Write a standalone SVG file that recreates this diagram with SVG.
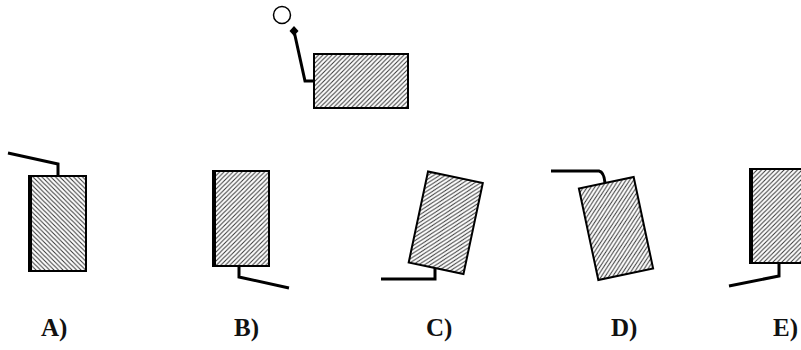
<svg xmlns="http://www.w3.org/2000/svg" width="801" height="350" viewBox="0 0 801 350">
<defs>
<pattern id="hatchR" patternUnits="userSpaceOnUse" width="4.5" height="4.5">
<rect width="4.5" height="4.5" fill="#fff"/>
<path d="M0,4.5 L4.5,0 M-1,1 L1,-1 M3.5,5.5 L5.5,3.5" stroke="#333" stroke-width="1"/>
</pattern>
<pattern id="hatchL" patternUnits="userSpaceOnUse" width="4.5" height="4.5">
<rect width="4.5" height="4.5" fill="#fff"/>
<path d="M0,0 L4.5,4.5 M-1,3.5 L1,5.5 M3.5,-1 L5.5,1" stroke="#333" stroke-width="1"/>
</pattern>
</defs>
<style>
.box{stroke:#000;stroke-width:2}
.thick{stroke:#000;stroke-width:4;fill:none}
.wire{fill:none;stroke:#000;stroke-width:3;stroke-linejoin:miter}
.lbl{font-family:"Liberation Serif","Times New Roman",serif;font-weight:bold;font-size:25px;fill:#111}
</style>
<rect width="801" height="350" fill="#fff"/>

<g id="connectors">
<path class="wire" d="M294,31 L305,81 L314,81"/>
<path class="wire" d="M8,153 L58,164 L58,176"/>
<path class="wire" d="M239,266 L239,277 L289,288"/>
<path class="wire" stroke-width="2.5" d="M435,268 L435,279 L381,279"/>
<path class="wire" stroke-width="1.6" d="M551,171 L599,171 Q604,172 605,183"/>
<path class="wire" d="M779,263 L779,276 L729,286"/>
</g>

<g id="top">
<circle cx="282" cy="15" r="8.5" fill="#fff" stroke="#000" stroke-width="1.5"/>
<path d="M294,26 L298.5,31 L294,36 L289.5,31 Z" fill="#000"/>
<rect class="box" x="314" y="54" width="94" height="54" fill="url(#hatchR)" stroke-width="3"/>
</g>

<g id="A">
<rect class="box" x="30" y="176" width="56" height="95" fill="url(#hatchL)"/>
<line class="thick" x1="30" y1="175" x2="30" y2="272"/>
<text class="lbl" x="41" y="336">A)</text>
</g>

<g id="B">
<rect class="box" x="214" y="171" width="55" height="95" fill="url(#hatchR)"/>
<line class="thick" x1="214" y1="170" x2="214" y2="267"/>
<text class="lbl" x="234" y="336">B)</text>
</g>

<g id="C">
<g transform="rotate(12 445.75 222.75)">
<rect class="box" x="417.75" y="176.25" width="56" height="93" fill="url(#hatchR)" stroke-width="2.5"/>
</g>
<text class="lbl" x="426" y="336">C)</text>
</g>

<g id="D">
<g transform="rotate(-12 616 228.5)">
<rect class="box" x="588" y="181.75" width="56" height="93.5" fill="url(#hatchR)" stroke-width="2.5"/>
</g>
<text class="lbl" x="611" y="336">D)</text>
</g>

<g id="E">
<rect class="box" x="751" y="169" width="60" height="94" fill="url(#hatchR)"/>
<line class="thick" x1="751" y1="168" x2="751" y2="264"/>
<text class="lbl" x="773" y="336">E)</text>
</g>
</svg>
